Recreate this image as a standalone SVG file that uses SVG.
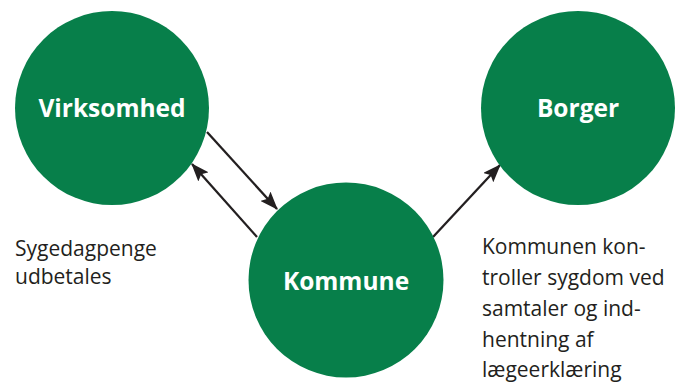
<svg xmlns="http://www.w3.org/2000/svg" width="682" height="383" viewBox="0 0 682 383">
<defs>
<marker id="ah" markerWidth="8" markerHeight="6" refX="7.5" refY="3" orient="auto" markerUnits="strokeWidth">
<path d="M0,0 L8,3 L0,6 L1.5,3 Z" fill="#231f20"/>
</marker>
<style>
.node{fill:#077f4a}
.nl{font-family:"Open Sans","Liberation Sans",sans-serif;font-weight:bold;font-size:24.5px;fill:#fff;text-anchor:middle}
.lbl{font-family:"Open Sans","Liberation Sans",sans-serif;font-size:21px;fill:#231f20}
.con{stroke:#231f20;stroke-width:2.3;fill:none;marker-end:url(#ah)}
</style>
</defs>
<rect width="682" height="383" fill="#fff"/>
<g id="connectors">
<line class="con" x1="207" y1="132" x2="277" y2="209"/>
<line class="con" x1="257" y1="237" x2="192" y2="164"/>
<line class="con" x1="433" y1="237" x2="500" y2="165"/>
</g>
<g id="virksomhed">
<circle class="node" cx="112" cy="108" r="97"/>
<text class="nl" x="112" y="117">Virksomhed</text>
</g>
<g id="borger">
<circle class="node" cx="578" cy="108" r="97"/>
<text class="nl" x="578" y="117">Borger</text>
</g>
<g id="kommune">
<circle class="node" cx="346" cy="280" r="97.5"/>
<text class="nl" x="346" y="290">Kommune</text>
</g>
<g id="label-left">
<text class="lbl" x="15" y="256">Sygedagpenge</text>
<text class="lbl" x="15" y="284">udbetales</text>
</g>
<g id="label-right">
<text class="lbl" x="482" y="254">Kommunen kon-</text>
<text class="lbl" x="482" y="285">troller sygdom ved</text>
<text class="lbl" x="482" y="316">samtaler og ind-</text>
<text class="lbl" x="482" y="347">hentning af</text>
<text class="lbl" x="482" y="377">lægeerklæring</text>
</g>
</svg>
